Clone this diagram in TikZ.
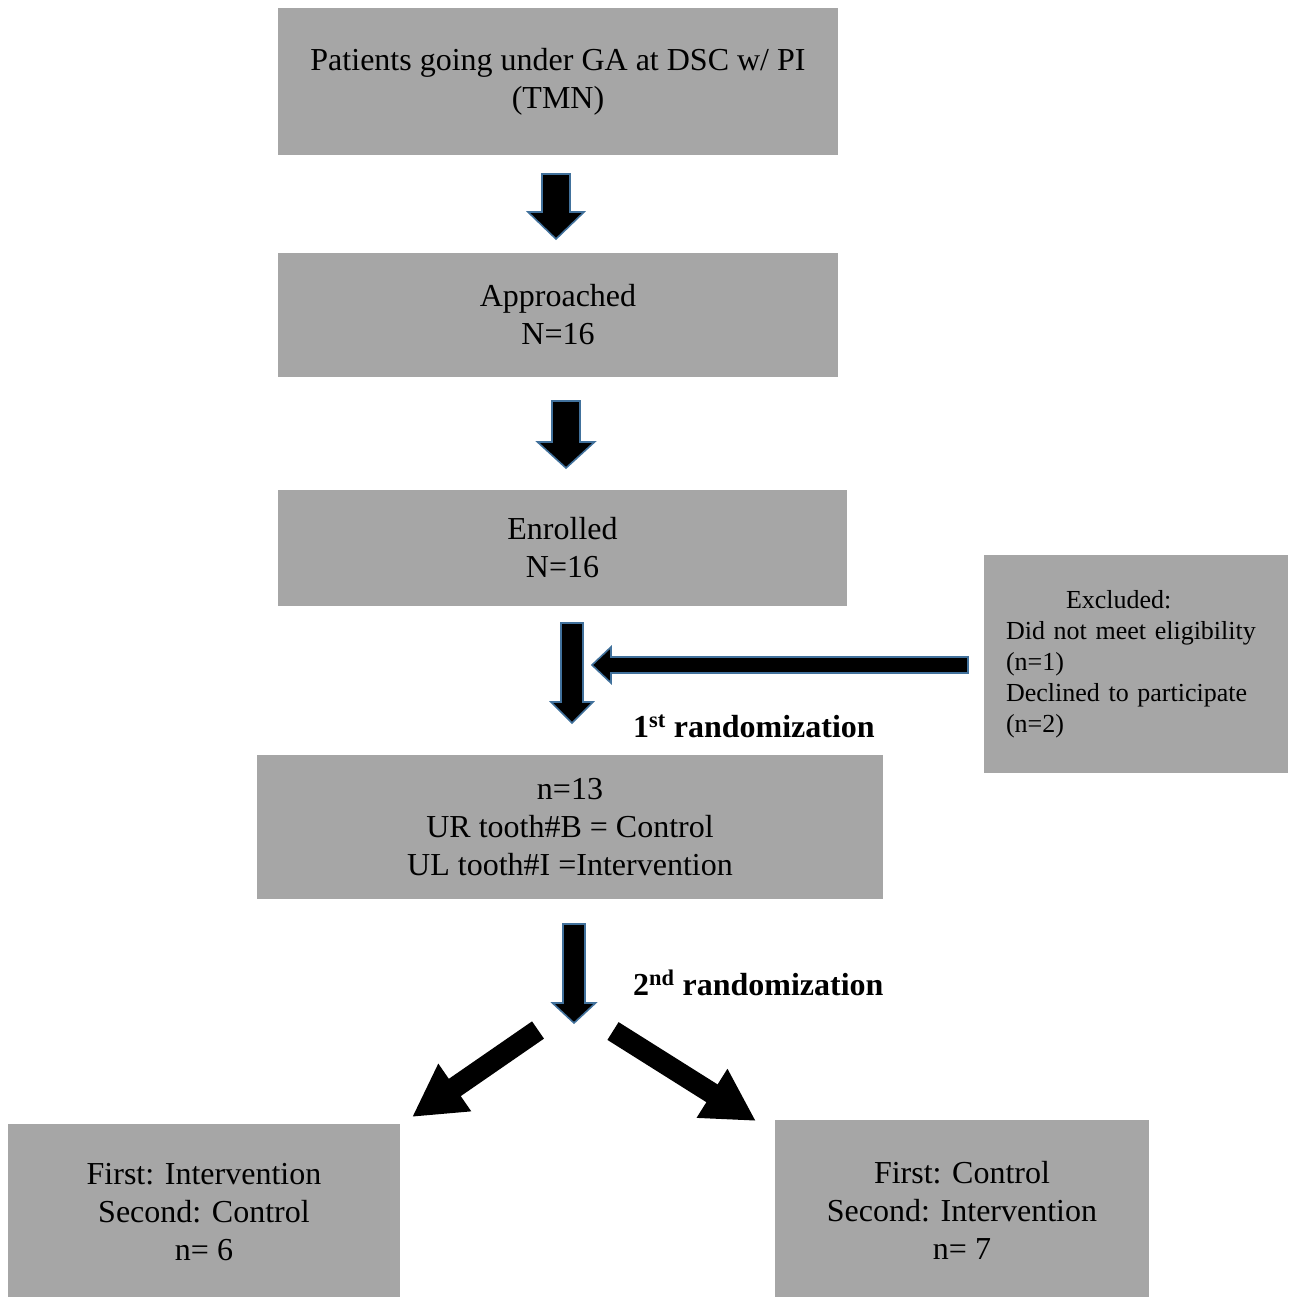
\documentclass[tikz,border=0pt]{standalone}
\usepackage{fontspec}
\setmainfont{Liberation Serif}
\usetikzlibrary{arrows.meta}
\definecolor{boxgray}{HTML}{A6A6A6}
\definecolor{arrowblue}{HTML}{41719C}
\newcommand\blkdown[6]{% cx, ytop, yhead, ytip, shaft half, head half
  \filldraw[barrow] (#1-#5,#2) -- (#1+#5,#2) -- (#1+#5,#3) -- (#1+#6,#3) -- (#1,#4)
    -- (#1-#6,#3) -- (#1-#5,#3) -- cycle;}
\begin{document}
\begin{tikzpicture}[x=1pt,y=-1pt,
  box/.style={fill=boxgray, draw=none, inner sep=0pt, align=center,
    font=\fontsize{32}{38}\selectfont},
  barrow/.style={fill=black, draw=arrowblue, line width=1.6pt, line join=miter},
  diag/.style={line width=21pt, black,
    -{Triangle[length=52pt,width=54pt]}},
  lbl/.style={font=\fontsize{32}{38}\selectfont\bfseries, anchor=base west, inner sep=0pt}]
\useasboundingbox (0,0) rectangle (1297,1296);

\node[box, minimum width=560pt, minimum height=147pt] (b1) at (558,81.5)
  {Patients going under GA at DSC w/ PI\\(TMN)};
\node[box, minimum width=560pt, minimum height=124pt] (b2) at (558,315)
  {Approached\\N=16};
\node[box, minimum width=569pt, minimum height=116pt] (b3) at (562.5,548)
  {Enrolled\\N=16};
\node[box, minimum width=626pt, minimum height=144pt] (b4) at (570,827)
  {n=13\\UR tooth\#B = Control\\UL tooth\#I =Intervention};
\node[box, minimum width=304pt, minimum height=218pt, text width=260pt, align=left,
  font=\fontsize{26}{31}\selectfont] (ex) at (1136,664)
  {\hspace*{60pt}Excluded:\\Did not meet eligibility\\(n=1)\\Declined to participate\\(n=2)};
\node[box, minimum width=392pt, minimum height=176pt] (b5) at (204,1212)
  {First: Intervention\\Second: Control\\n= 6};
\node[box, minimum width=374pt, minimum height=180pt] (b6) at (962,1210)
  {First: Control\\Second: Intervention\\n= 7};

% block arrows
\blkdown{556}{174}{212}{239}{14}{28}
\blkdown{566}{401}{442}{468}{14}{28.5}
\blkdown{572}{623}{702}{723}{11}{21}
\blkdown{574}{924}{1003}{1023}{11}{21.5}

% horizontal arrow from exclusion box
\filldraw[barrow] (968,657) -- (611,657) -- (611,647) -- (592,665) -- (611,683)
  -- (611,673) -- (968,673) -- cycle;

\node[lbl] (r1) at (633,737) {1\textsuperscript{st} randomization};
\node[lbl] (r2) at (633,995) {2\textsuperscript{nd} randomization};

% diagonal arrows
\coordinate (sl) at (538,1030);
\coordinate (tl) at (412,1117);
\coordinate (sr) at (613,1031);
\coordinate (tr) at (756,1121);
\draw[diag] (sl) -- (tl);
\draw[diag] (sr) -- (tr);
\end{tikzpicture}
\end{document}
